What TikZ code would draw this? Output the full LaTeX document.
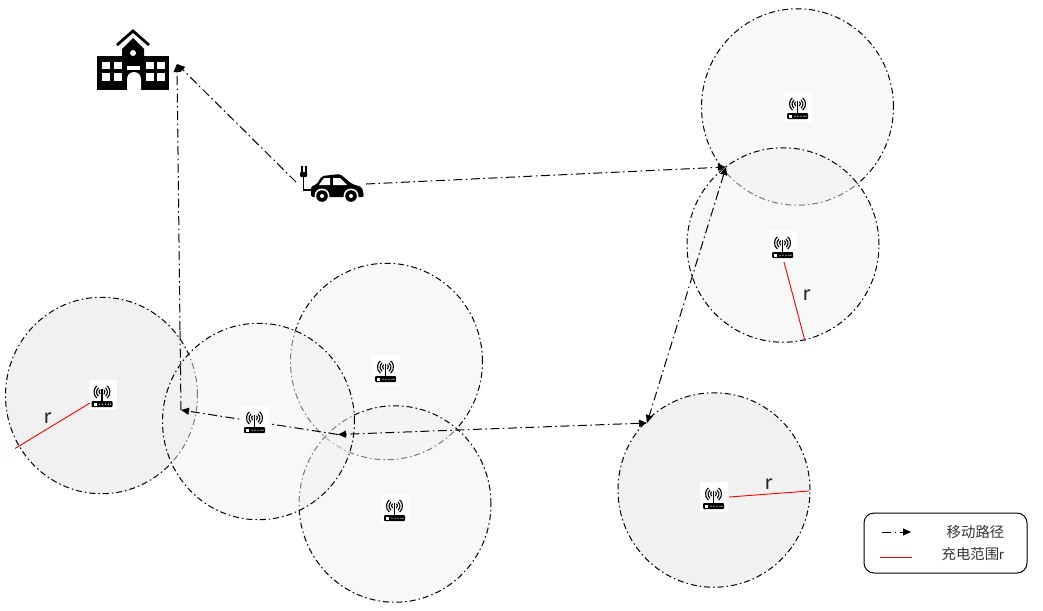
\documentclass[tikz,border=0pt]{standalone}
\usepackage{fontspec}
\setmainfont{Carlito}
\newfontfamily\cjk{Noto Sans CJK SC}
\usetikzlibrary{arrows.meta,shapes.geometric}
\definecolor{zonefill}{HTML}{F1F1F1}
\tikzset{
  x=1pt,y=-1pt,
  zone/.style={ellipse,draw=black,line width=1pt,fill=zonefill,inner sep=0pt,outer sep=0pt,minimum width=192pt,minimum height=196.5pt,
    dash pattern=on 6pt off 3pt on 1.5pt off 3pt},
  zonelight/.style={zone,fill opacity=0.5},
  route/.style={draw=black,line width=1pt,dash pattern=on 9pt off 3.5pt on 1.5pt off 3.5pt,
    -{Triangle[length=8pt,width=7pt]}},
  routeboth/.style={route,{Triangle[length=8pt,width=7pt]}-{Triangle[length=8pt,width=7pt]}},
  routeplain/.style={draw=black,line width=1pt,dash pattern=on 9pt off 3.5pt on 1.5pt off 3.5pt},
  rangeline/.style={draw=red,line width=0.9pt},
  rlabel/.style={font=\fontsize{22}{22}\selectfont,text=black!85,inner sep=0pt},
  legendtext/.style={font=\cjk\fontsize{14.4}{14.4}\selectfont,text=black!80,inner sep=0pt},
  rbox/.style={fill=white,inner sep=0pt,minimum width=28pt,minimum height=30pt},
  routerglyph/.pic={
    \fill[black,rounded corners=1pt] (-11,6) rectangle (10,12);
    \fill[white] (-9,8) rectangle (-6,10.5);
    \foreach \d in {-3,0,3,6,8} \fill[white] (\d,9.2) circle (0.6);
    \draw[line width=1.2pt] (-0.5,-6) -- (-0.5,6);
    \foreach \r in {3,5.5,8}{
      \draw[line width=1.1pt] (-0.5,-3) ++(50:\r) arc[start angle=50,end angle=-50,radius=\r];
      \draw[line width=1.1pt] (-0.5,-3) ++(130:\r) arc[start angle=130,end angle=230,radius=\r];
    }
  },
}
\newcommand\router[2]{\node[rbox] (#1) at (#2) {}; \pic at (#2) {routerglyph};}
\begin{document}
\begin{tikzpicture}
\useasboundingbox (0,0) rectangle (1043,610);
% coverage zones
\node[zonelight] (za) at (797.5,107) {};
\node[zonelight,minimum height=194.5pt] (zb) at (783,245) {};
\node[zone,minimum height=194.5pt] (zc) at (714,490) {};
\node[zone] (zg) at (101.5,395.5) {};
\node[zonelight] (zd) at (386.5,361.5) {};
\node[zonelight] (ze) at (395,504) {};
\node[zonelight] (zf) at (258.5,421.5) {};
% way points
\coordinate (depot) at (177,64);
\coordinate (carback) at (296,182);
\coordinate (carfront) at (366,184);
\coordinate (wa) at (726,167);
\coordinate (wb) at (647,423);
\coordinate (wc) at (338,434.5);
\coordinate (wd) at (181,410);
\coordinate (bend) at (180,330);
% routes
\draw[route] (carback) -- (depot);
\draw[route] (carfront) -- (wa);
\draw[routeboth] (wa) -- (wb);
\draw[routeboth] (wb) -- (wc);
\draw[route] (wc) -- (wd);
\draw[routeplain] (wd) -- (bend);
\draw[route] (bend) -- (depot);
% routers
\router{ra}{798,107}
\router{rb}{783,246}
\router{rc}{714,497}
\router{rd}{386,370}
\router{re}{395,509}
\router{rf}{255,421}
\router{rg}{102.5,395}
% radii
\coordinate (ega) at (15,448.5);
\coordinate (egb) at (805,341);
\coordinate (egc) at (809,491);
\draw[rangeline] (90,403) -- (ega);
\draw[rangeline] (784,262) -- (egb);
\draw[rangeline] (729,497) -- (egc);
\node[rlabel] (lg) at (48,418) {r};
\node[rlabel] (lb) at (807,295) {r};
\node[rlabel] (lc) at (769,484) {r};
% school
\begin{scope}
\fill[black] (97,56) rectangle (169,90);
\fill[black] (122,56) -- (122,49) -- (133,38) -- (144,49) -- (144,56) -- cycle;
\draw[black,line width=2.8pt] (117,45) -- (133,31) -- (149,45);
\fill[white] (133,53) circle (3);
\foreach \xa/\xb in {102/110,114/122,146/154,157/165}{
  \fill[white] (\xa,62) rectangle (\xb,69);
  \fill[white] (\xa,73) rectangle (\xb,80.5);
}
\fill[white] (127,66) rectangle (140,69.5);
\fill[white] (127,90) -- (127,79) arc[start angle=180,end angle=360,radius=7] -- (141,90) -- cycle;
\end{scope}
% car
\begin{scope}
\fill[black,rounded corners=1pt] (300,172) rectangle (307,177);
\fill[black] (300.5,166) rectangle (302.5,173);
\fill[black] (304.5,166) rectangle (306.5,173);
\draw[black,line width=1.6pt] (303.5,177) -- (303.5,190) -- (312,190);
\fill[black,rounded corners=2pt] (311,197) -- (311,186) -- (316,185) -- (322,176) -- (340,174) -- (352,184) -- (362,187) -- (364,197) -- cycle;
\fill[white] (319,185) -- (324,178) -- (330,178) -- (330,185) -- cycle;
\fill[white] (333,178) -- (340,178) -- (347,185) -- (333,185) -- cycle;
\foreach \cx in {322,351}{
  \fill[white] (\cx,196) circle (7.5);
  \fill[black] (\cx,196) circle (5.8);
  \fill[white] (\cx,196) circle (2);
}
\end{scope}
% legend
\node[draw=black,line width=1pt,rounded corners=10pt,minimum width=163pt,minimum height=60pt,inner sep=0pt] (legend) at (945.5,543) {};
\coordinate (la) at (882,532);
\coordinate (lb2) at (911,532);
\coordinate (lc2) at (880,557);
\coordinate (ld) at (912,557);
\draw[route] (la) -- (lb2);
\draw[rangeline] (lc2) -- (ld);
\node[legendtext] (t1) at (975.5,532) {移动路径};
\node[legendtext] (t2) at (973,554) {充电范围{\fontsize{15}{15}\selectfont\rmfamily r}};
\end{tikzpicture}
\end{document}
